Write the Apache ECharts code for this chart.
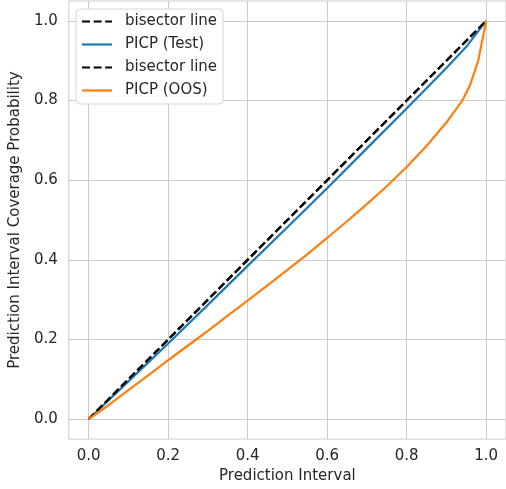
<!DOCTYPE html>
<html>
<head>
<meta charset="utf-8">
<script src="https://cdn.jsdelivr.net/npm/echarts@6/dist/echarts.min.js"></script>
<style>
  html, body { margin: 0; padding: 0; background: #fff; }
  #chart { width: 506px; height: 489px; }
</style>
</head>
<body>
<div id="chart"></div>
<script>
// tick positions
var tickValues = [0, 0.2, 0.4, 0.6, 0.8, 1.0];

// bisector
var bisectorX = [0, 1];
var bisectorY = [0, 1];

// PICP on test set
var testX = [0, 0.1, 0.2, 0.3, 0.4, 0.5, 0.6, 0.7, 0.8, 0.9, 0.95, 1.0];
var testY = [0, 0.095, 0.19, 0.287, 0.385, 0.482, 0.58, 0.68, 0.78, 0.882, 0.935, 1.0];

// PICP out of sample
var oosX = [0, 0.05, 0.1, 0.15, 0.2, 0.25, 0.3, 0.35, 0.4, 0.45, 0.5, 0.55, 0.6, 0.65, 0.7, 0.75, 0.8, 0.85, 0.9, 0.92, 0.94, 0.96, 0.98, 1.0];
var oosY = [0, 0.035, 0.073, 0.11, 0.148, 0.185, 0.222, 0.26, 0.298, 0.336, 0.375, 0.414, 0.455, 0.497, 0.54, 0.585, 0.633, 0.686, 0.745, 0.772, 0.80, 0.84, 0.90, 1.0];

function pairs(xs, ys) {
    var out = [];
    for (var i = 0; i < xs.length; i++) out.push([xs[i], ys[i]]);
    return out;
}

var txt = '#262626';
var gridCol = '#cccccc';
var font = 'DejaVu Sans';
var fs = 15;

// legend handles drawn as paths (matplotlib style, no marker)
var dashIcon = 'path://M0,0h8v2.2h-8zM11.6,0h8v2.2h-8zM23.2,0h6.8v2.2h-6.8z';
var solidIcon = 'path://M0,0h30v2.2h-30z';

function axisCfg(name, isY) {
    return {
        type: 'value',
        min: -0.05,
        max: 1.05,
        name: name,
        nameLocation: 'middle',
        nameGap: isY ? 41 : 26,
        nameTextStyle: {color: txt, fontSize: fs, fontFamily: font},
        axisLine: {show: false},
        axisTick: {show: false, customValues: tickValues},
        axisLabel: {
            customValues: tickValues,
            color: txt, fontSize: fs, fontFamily: font,
            margin: isY ? 11 : 10,
            formatter: function (v) { return v.toFixed(1); }
        },
        splitLine: {show: true, customValues: tickValues, lineStyle: {color: gridCol, width: 1}}
    };
}

var myChart = echarts.init(document.getElementById('chart'));
var option = {
    animation: false,
    backgroundColor: '#fff',
    grid: {
        left: 68, top: 1, width: 440, height: 440,
        show: true, borderColor: gridCol, borderWidth: 1
    },
    xAxis: axisCfg('Prediction Interval', false),
    yAxis: axisCfg('Prediction Interval Coverage Probability', true),
    legend: {
        left: 76, top: 9,
        orient: 'vertical',
        backgroundColor: '#fff',
        borderColor: '#d6d6d6',
        borderWidth: 1,
        borderRadius: 4,
        padding: [5, 6, 6, 6],
        itemWidth: 30,
        itemHeight: 14,
        itemGap: 8,
        symbolKeepAspect: true,
        textStyle: {color: txt, fontSize: fs, fontFamily: font, padding: [0, 0, 0, 8]},
        formatter: function (n) { return n.trim(); },
        data: [
            {name: 'bisector line', icon: dashIcon, itemStyle: {color: '#000'}},
            {name: 'PICP (Test)', icon: solidIcon, itemStyle: {color: '#1f77b4'}},
            {name: 'bisector line ', icon: dashIcon, itemStyle: {color: '#000'}},
            {name: 'PICP (OOS)', icon: solidIcon, itemStyle: {color: '#ff7f0e'}}
        ]
    },
    series: [
        {
            name: 'bisector line', type: 'line', showSymbol: false, symbol: 'none',
            data: pairs(bisectorX, bisectorY),
            lineStyle: {color: '#000', width: 2.2, type: [8, 3.5]},
            itemStyle: {color: '#000'}
        },
        {
            name: 'PICP (Test)', type: 'line', showSymbol: false, symbol: 'none',
            data: pairs(testX, testY),
            lineStyle: {color: '#1f77b4', width: 2.2},
            itemStyle: {color: '#1f77b4'}
        },
        {
            name: 'bisector line ', type: 'line', showSymbol: false, symbol: 'none',
            data: pairs(bisectorX, bisectorY),
            lineStyle: {color: '#000', width: 2.2, type: [8, 3.5]},
            itemStyle: {color: '#000'}
        },
        {
            name: 'PICP (OOS)', type: 'line', showSymbol: false, symbol: 'none',
            data: pairs(oosX, oosY),
            lineStyle: {color: '#ff7f0e', width: 2.2},
            itemStyle: {color: '#ff7f0e'}
        }
    ]
};
myChart.setOption(option);
</script>
</body>
</html>
